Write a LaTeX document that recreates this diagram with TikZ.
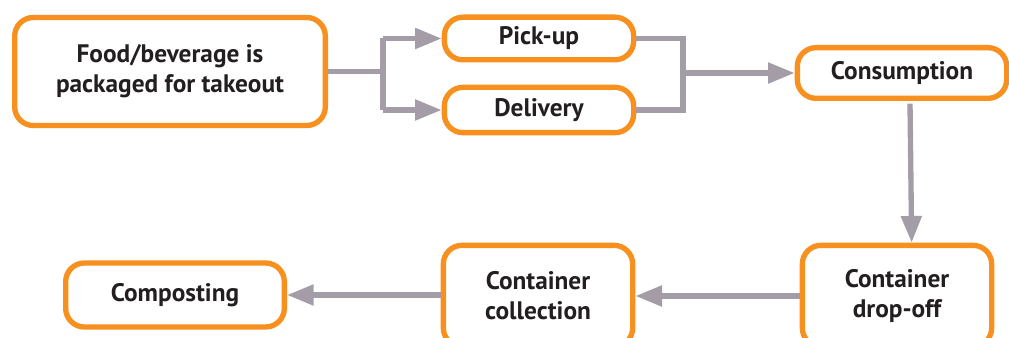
\documentclass[tikz,border=0pt]{standalone}
\usepackage{fontspec}
\setmainfont{PT Sans}
\usetikzlibrary{arrows.meta}
\definecolor{boxorange}{HTML}{F7901E}
\definecolor{linegray}{HTML}{A49DA8}
\definecolor{textdark}{HTML}{231F20}
\tikzset{
  stage/.style={draw=boxorange, line width=4pt, rounded corners=14pt, fill=white,
    text=textdark, align=center, inner sep=0pt, font=\bfseries\fontsize{19}{22.5}\selectfont},
  flow/.style={draw=linegray, line width=4pt, -{Triangle[length=20pt,width=15pt]}},
  plain/.style={draw=linegray, line width=4pt}
}
\begin{document}
\begin{tikzpicture}[x=0.75pt,y=-0.75pt]
\useasboundingbox (0,0) rectangle (1009,338);
\node[stage, minimum width=233pt, minimum height=81pt] (food) at (170,71.5) {Food/beverage is\\packaged for takeout};
\node[stage, minimum width=142pt, minimum height=32pt] (pick) at (539,38.5) {Pick-up};
\node[stage, minimum width=142pt, minimum height=34pt] (deliv) at (539,110) {Delivery};
\node[stage, minimum width=157pt, minimum height=38pt] (cons) at (902,73) {Consumption};
\node[stage, minimum width=142pt, minimum height=76pt] (drop) at (897,296) {Container\\drop-off};
\node[stage, minimum width=142pt, minimum height=76pt] (coll) at (538,296) {Container\\collection};
\node[stage, minimum width=164pt, minimum height=48pt] (comp) at (175,295) {Composting};
\coordinate (split) at (383,71.5);
\coordinate (merge) at (683,73);
\draw[plain] (food.east) -- (split);
\draw[flow] (split |- pick.west) -- (pick.west);
\draw[flow] (split |- deliv.west) -- (deliv.west);
\draw[plain] (split |- pick.west) -- (split |- deliv.west);
\draw[plain] (pick.east) -| (merge);
\draw[plain] (deliv.east) -| (merge);
\draw[flow] (merge) -- (cons.west);
\draw[flow] ([xshift=6pt,yshift=-2pt]cons.south) -- ([xshift=11pt]drop.north);
\draw[flow] (drop.west |- coll.east) -- (coll.east);
\draw[flow] (coll.west |- comp.east) -- (comp.east);
\end{tikzpicture}
\end{document}
